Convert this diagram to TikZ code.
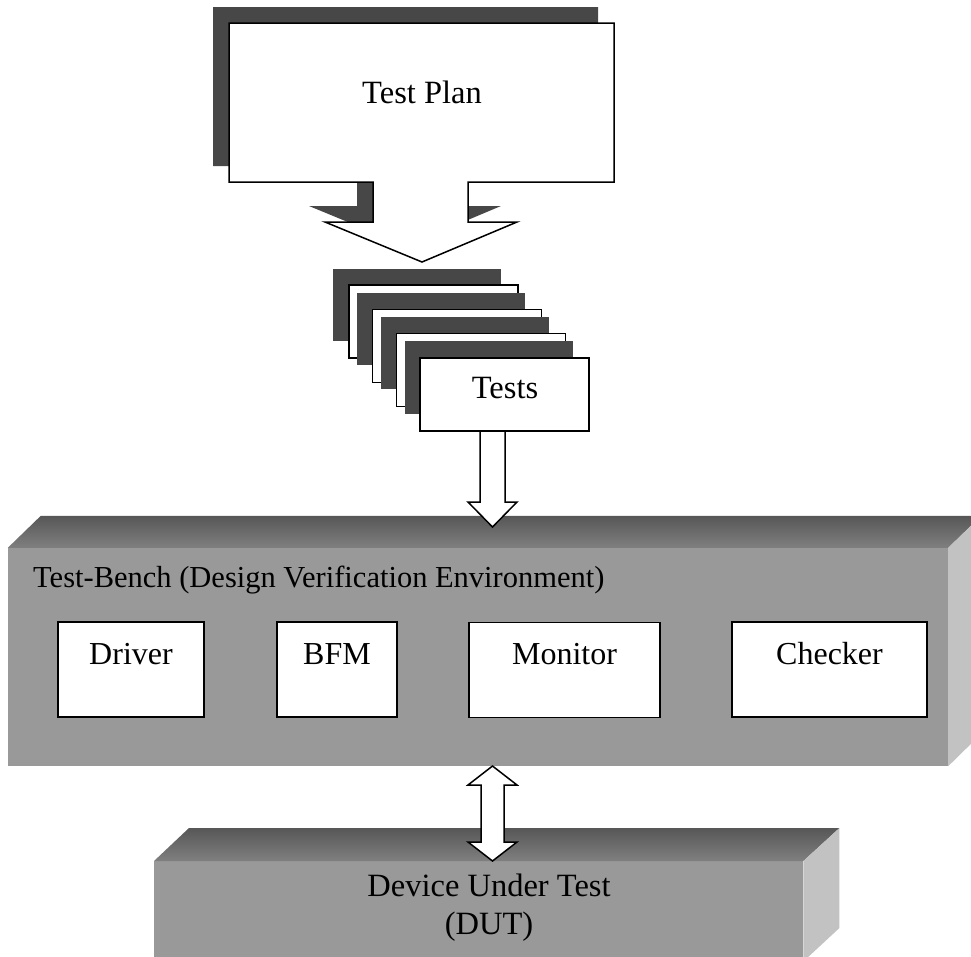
\documentclass[tikz,border=0pt]{standalone}
\usepackage{fontspec}
\setmainfont{Liberation Serif}
\usetikzlibrary{calc}
\begin{document}
\begin{tikzpicture}[x=1pt,y=-1pt,
  outline/.style={draw=black, line width=1.5pt, line join=miter},
  card/.style={outline, fill=white, inner sep=0pt},
  backing/.style={fill=black!72, draw=none},
  blockarrow/.style={outline, fill=white},
  lbl/.style={font=\fontsize{32.5pt}{38pt}\selectfont, inner sep=0pt, align=center},
  boxlbl/.style={font=\fontsize{32pt}{38pt}\selectfont, inner sep=0pt},
  unit/.style={card, minimum height=95pt},
  topface/.style={top color=black!66, bottom color=black!50, draw=none},
  frontface/.style={fill=black!40, draw=none, inner sep=0pt},
  sideface/.style={fill=black!24, draw=none}
]
\useasboundingbox (0,0) rectangle (971,956);
\clip (0,0) rectangle (971,956);

% ---- Test plan callout with its drop shadow ----
\begin{scope}[shift={(-16,-16)}]
  \fill[black!72] (229,23) -- (614,23) -- (614,182) -- (468,182) -- (468,222) -- (517,222)
    -- (422,262) -- (325,222) -- (373,222) -- (373,182) -- (229,182) -- cycle;
\end{scope}
\filldraw[outline, fill=white] (229,23) -- (614,23) -- (614,182) -- (468,182) -- (468,222) -- (517,222)
    -- (422,262) -- (325,222) -- (373,222) -- (373,182) -- (229,182) -- cycle;
\node[lbl] (plan) at (422,92) {Test Plan};

% ---- stack of test cards ----
\foreach \i in {0,1,2} {
  \fill[backing] (333+23.9*\i,269+24.2*\i) rectangle ++(168,72);
  \filldraw[card] (349+23.7*\i,285+24.3*\i) rectangle ++(169,73);
}
\fill[backing] (405,341) rectangle ++(168,73);
\node[card, minimum width=169pt, minimum height=73pt] (tests) at (504.5,394.5) {};
\node[lbl] (testslbl) at (505,388) {Tests};

% ---- test bench block ----
\node[frontface, minimum width=940pt, minimum height=218pt] (bench) at (478,657) {};
\path[topface] (bench.north west) -- ++(33,-32) -- ($(bench.north east)+(33,-32)$) -- (bench.north east) -- cycle;
\fill[sideface] (bench.north east) -- ++(33,-32) -- ++(0,218) -- (bench.south east) -- cycle;
\node[font=\fontsize{30.5pt}{36pt}\selectfont, inner sep=0pt, anchor=west] (benchlbl) at (33,580)
  {Test-Bench (Design Verification Environment)};

\node[unit, minimum width=146pt] (driver)  at (131,669.5) {};
\node[unit, minimum width=120pt] (bfm)     at (337,669.5) {};
\node[unit, minimum width=191pt] (monitor) at (564.5,670) {};
\node[unit, minimum width=195pt] (checker) at (829.5,669.5) {};
\node[boxlbl] (driverlbl)  at ([yshift=-33pt]driver.north)  {Driver};
\node[boxlbl] (bfmlbl)     at ([yshift=-33pt]bfm.north)     {BFM};
\node[boxlbl] (monitorlbl) at ([yshift=-32pt]monitor.north) {Monitor};
\node[boxlbl] (checkerlbl) at ([yshift=-32pt]checker.north) {Checker};

% ---- device under test block ----
\node[frontface, minimum width=649pt, minimum height=100pt, anchor=north west] (dut) at (154,861) {};
\path[topface] (dut.north west) -- ++(35,-33) -- ($(dut.north east)+(36,-33)$) -- (dut.north east) -- cycle;
\fill[sideface] (dut.north east) -- ++(36,-33) -- ++(0,100) -- (dut.south east) -- cycle;
\node[lbl] (dutlbl) at (489,908) {Device Under Test\\(DUT)};

% ---- block arrow: tests into the bench ----
\coordinate (a1s) at (492.5,431);
\coordinate (a1e) at (492.5,527);
\filldraw[blockarrow] ($(a1s)+(-12.5,0)$) -- ($(a1e)+(-12.5,-25)$) -- ($(a1e)+(-24.5,-25)$) -- (a1e)
  -- ($(a1e)+(24.5,-25)$) -- ($(a1e)+(12.5,-25)$) -- ($(a1s)+(12.5,0)$) -- cycle;

% ---- two-way block arrow: bench <-> DUT ----
\coordinate (d1) at (492.5,766);
\coordinate (d2) at (492.5,861);
\filldraw[blockarrow] (d1) -- ($(d1)+(24.5,19)$) -- ($(d1)+(11.5,19)$) -- ($(d2)+(11.5,-19)$)
  -- ($(d2)+(24.5,-19)$) -- (d2) -- ($(d2)+(-24.5,-19)$) -- ($(d2)+(-11.5,-19)$)
  -- ($(d1)+(-11.5,19)$) -- ($(d1)+(-24.5,19)$) -- cycle;
\end{tikzpicture}
\end{document}
